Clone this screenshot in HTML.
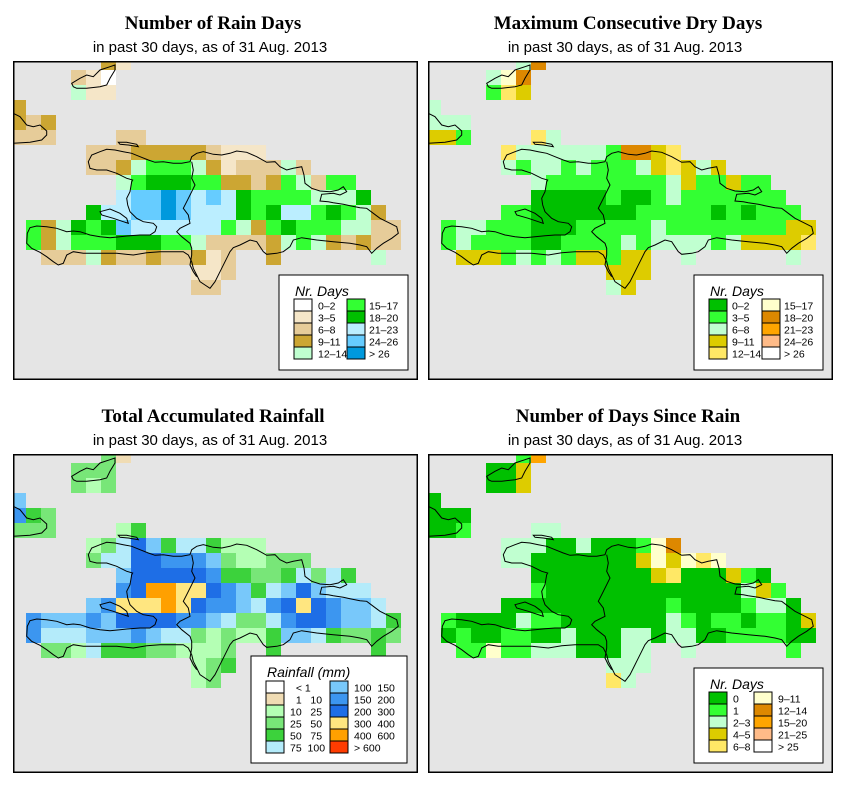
<!DOCTYPE html>
<html><head><meta charset="utf-8"><style>
html,body{margin:0;padding:0;background:#fff;width:853px;height:793px;overflow:hidden}
svg{position:absolute;left:0;top:0}
.t{font-family:"Liberation Serif",serif;font-weight:bold;font-size:19px}
.s{font-family:"Liberation Sans",sans-serif;font-size:15px}
.l{font-family:"Liberation Sans",sans-serif;font-size:10.5px}
.lt{font-family:"Liberation Sans",sans-serif;font-size:14px;font-style:italic}
</style></head><body>
<svg id="root" width="853" height="793">
<text class="t" x="213" y="29" text-anchor="middle">Number of Rain Days</text>
<text class="s" x="210" y="52" text-anchor="middle">in past 30 days, as of  31 Aug. 2013</text>
<text class="t" x="628" y="29" text-anchor="middle">Maximum Consecutive Dry Days</text>
<text class="s" x="625" y="52" text-anchor="middle">in past 30 days, as of  31 Aug. 2013</text>
<text class="t" x="213" y="422" text-anchor="middle">Total Accumulated Rainfall</text>
<text class="s" x="210" y="445" text-anchor="middle">in past 30 days, as of  31 Aug. 2013</text>
<text class="t" x="628" y="422" text-anchor="middle">Number of Days Since Rain</text>
<text class="s" x="625" y="445" text-anchor="middle">in past 30 days, as of  31 Aug. 2013</text>
</svg>
<script>
// ---- data: grid rows -1..14, columns 0..26 ----
const gridRainDays = [
"......ca...................",
"....baW....................",
"....daa....................",
"c..........................",
"cbc........................",
"bbb....bb..................",
".....bbbcccccbaaa..........",
".....bbcdeeedcabbbdb.......",
".......defffeeccbcedbee....",
".......ghhihghgfeeeedddf...",
".....fgghhihgggfefggefedc..",
".ecdfefhggggggedcefeeeddbb.",
".ecdeeefffeedbbbbcdedcbcbb.",
"..bbbdcbbcbbcab..c......d..",
"............aab............",
"............bb............."];
const gridDryDays = [
"......CG...................",
"....CFG....................",
"....BED....................",
"C..........................",
"CCC........................",
"DDB....EC..................",
".....ECCCCCCBGGDE..........",
".....CBCCBCBBBCDEDCD.......",
".......CBBBBBBBBCDBBDBB....",
".......AAAAABAABCBBBBBBB...",
".....BBAAAAAAABBBBBABABBB..",
".BCCBBBAAABBBBBCBBBBBBBBDD.",
".BCBBBBAABBBBCBCCCCBCDDDDE.",
"..DDDBCBCBDDBDD..C......C..",
"............DDD............",
"............CD............."];
const gridRainfall = [
"......31...................",
"....333....................",
"....323....................",
"6..........................",
"743........................",
"333....24..................",
".....235864554222..........",
".....355887776322333.......",
".......6888887443345354....",
".......78xx9987645686555...",
".....67999x98776578987665..",
".7666768888776533578876654.",
".7555666765532322466543343.",
"..3325444332223..4......4..",
"............234............",
"............23............."];
const gridSinceRain = [
"......BH...................",
"....AAD....................",
"....AAD....................",
"A..........................",
"AAA........................",
"AAB....CC..................",
".....CCCAACAAABFG..........",
".....CCAAAAAAADFDFEF.......",
".......AAAAAAAADEAAADBA....",
".......BAAAAAAAAAAAAACDB...",
".....AAAAAAAAAAABAAAABCCA..",
".BAAAACBBAAAAAAACBABBABBAD.",
".ABAABBAACAAACCACCAABBBBAA.",
"..BBFBBCCCAAACC..C......B..",
"............CCC............",
"............EC............."];
const rainDayKeys = ["W","a","b","c","d","e","f","g","h","i"];
const rainDayLabels = ["0–2","3–5","6–8","9–11","12–14","15–17","18–20","21–23","24–26","> 26"];
const rainDayColors = ["#ffffff","#f5e6c8","#e6cc99","#cca633","#c0ffd0","#33ff33","#00c000","#bbeeff","#66ccff","#0099dd"];
const dryKeys = ["A","B","C","D","E","F","G","H","I","J"];
const dryLabels = ["0–2","3–5","6–8","9–11","12–14","15–17","18–20","21–23","24–26","> 26"];
const dryColors = ["#00c000","#33ff33","#c0ffd0","#ddcc00","#ffe866","#ffffcc","#dd8800","#ffa500","#ffbb88","#ffffff"];
const rainfallKeys = ["0","1","2","3","4","5","6","7","8","9","x","y"];
const rainfallLabels = ["  < 1","  1   10","10   25","25   50","50   75","75  100","100  150","150  200","200  300","300  400","400  600","> 600"];
const rainfallColors = ["#ffffff","#f0dcb4","#b4ffb4","#78e678","#3cd23c","#b4ebfa","#78c8fa","#3c96f0","#1e6ee6","#ffe680","#ffa000","#ff3c00"];
const sinceKeys = ["A","B","C","D","E","F","G","H","I","J"];
const sinceLabels = ["0","1","2–3","4–5","6–8","9–11","12–14","15–20","21–25","> 25"];
const sinceColors = ["#00c000","#33ff33","#c0ffd0","#ddcc00","#ffe866","#ffffcc","#dd8800","#ffa500","#ffbb88","#ffffff"];

const NS="http://www.w3.org/2000/svg";
const root=document.getElementById('root');
const PW=405, PH=319, CELL=15;
function xCol(c){return -2+CELL*c;}
function yRow(r){return 9+CELL*r;}
const Z=(p)=>p.map(q=>[q[0]/3-13,q[1]/3-6]);
const mainland=Z([[265,320],[275,300],[300,290],[320,283],[345,285],[370,290],[395,295],[420,305],[445,315],[465,322],[490,320],[520,325],[545,325],[570,320],[575,305],[590,295],[610,290],[640,298],[665,300],[690,295],[710,288],[740,292],[770,305],[800,322],[825,320],[840,335],[860,345],[880,340],[905,335],[912,360],[915,385],[935,400],[960,408],[990,410],[1015,405],[1030,395],[1040,410],[1020,420],[1000,415],[965,418],[960,438],[985,440],[1000,443],[1030,448],[1050,452],[1080,458],[1100,460],[1120,475],[1140,490],[1170,505],[1190,515],[1195,535],[1175,550],[1150,565],[1130,580],[1115,595],[1100,575],[1080,570],[1050,565],[1000,560],[950,555],[905,548],[880,555],[870,575],[850,590],[830,595],[800,598],[790,590],[770,560],[750,555],[720,570],[700,578],[690,590],[680,610],[665,640],[645,680],[630,700],[615,690],[600,680],[590,660],[580,640],[575,620],[565,600],[550,590],[520,590],[480,590],[440,593],[400,600],[350,595],[300,595],[250,595],[220,590],[200,600],[190,625],[175,630],[160,620],[140,605],[120,592],[95,580],[80,565],[82,535],[90,518],[110,513],[140,515],[170,520],[200,530],[220,528],[240,530],[270,540],[300,545],[330,548],[360,545],[390,542],[420,540],[450,540],[465,530],[470,515],[460,505],[430,500],[410,490],[390,470],[383,450],[380,430],[390,410],[395,380],[398,375],[380,370],[350,355],[320,345],[290,345],[270,340]]);
const gonave=Z([[300,470],[330,462],[360,475],[380,490],[385,505],[370,500],[340,490],[305,480]]);
const tortuga=Z([[355,262],[380,262],[410,268],[415,275],[385,270],[360,268]]);
const border=Z([[575,320],[580,345],[575,370],[585,390],[575,410],[560,440],[550,460],[565,480],[570,505],[540,520],[530,530],[545,545],[570,565],[575,580],[575,600],[570,630],[580,650],[590,665]]);
const cuba=Z([[40,175],[60,185],[80,210],[100,215],[120,210],[140,228],[140,240],[125,255],[90,262],[40,265]]);
const inagua=Z([[215,85],[240,70],[260,60],[280,65],[300,45],[330,35],[345,30],[345,45],[330,70],[320,90],[300,95],[260,100],[230,100],[220,95]]);
function pstr(p,close){return 'M'+p.map(q=>q[0].toFixed(1)+','+q[1].toFixed(1)).join('L')+(close?'Z':'');}

function el(tag,attrs,parent){const e=document.createElementNS(NS,tag);for(const k in attrs)e.setAttribute(k,attrs[k]);parent.appendChild(e);return e;}

function panel(name,px,py,grid,keys,colors,labels,leg){
  const g=el('svg',{x:px,y:py,width:PW,height:PH,overflow:'hidden'},root);
  
  
  el('rect',{x:0,y:0,width:PW,height:PH,fill:'#e5e5e5'},g);
  grid.forEach((row,ri)=>{
    for(let c=0;c<row.length;c++){
      const k=row[c]; const idx=keys.indexOf(k);
      if(idx<0) continue;
      const r=el('rect',{x:xCol(c),y:yRow(ri-1),width:CELL,height:CELL,fill:colors[idx]},g);
      
      
    }
  });
  const coast=el('g',{fill:'none',stroke:'#000','stroke-width':1},g);
  
  
  el('path',{d:pstr(mainland,true)},coast);
  el('path',{d:pstr(gonave,true)},coast);
  el('path',{d:pstr(tortuga,true)},coast);
  el('path',{d:pstr(border,false)},coast);
  el('path',{d:pstr(cuba,false)},coast);
  el('path',{d:pstr(inagua,true)},coast);
  const lg=el('g',{},g);
  
  
  el('rect',{x:leg.x,y:leg.y,width:leg.w,height:leg.h,fill:'#fff',stroke:'#000','stroke-width':1},lg);
  const tt=el('text',{x:leg.tx,y:leg.ty,class:'lt'},lg); tt.textContent=leg.title;
  const half=Math.ceil(labels.length/2);
  labels.forEach((lab,i)=>{
    const col=i<half?0:1, row=i%half;
    const sx=col?leg.sx2:leg.sx1, sy=leg.sy+row*12;
    const e=el('g',{},lg);
    
    
    el('rect',{x:sx,y:sy,width:18,height:12,fill:colors[i],stroke:'#000','stroke-width':1},e);
    const t=el('text',{x:(col?leg.lx2:leg.lx1),y:sy+10.5,class:'l'},e);
    t.setAttribute('style','white-space:pre');
    t.textContent=lab;
  });
  el('rect',{x:0.75,y:0.75,width:PW-1.5,height:PH-1.5,fill:'none',stroke:'#000','stroke-width':1.5},g);
}
panel('rain-days',13,61,gridRainDays,rainDayKeys,rainDayColors,rainDayLabels,
 {x:266,y:214,w:129,h:95,tx:282,ty:235,title:'Nr. Days',sx1:281,sx2:334,lx1:305,lx2:356,sy:238});
panel('dry-days',428,61,gridDryDays,dryKeys,dryColors,dryLabels,
 {x:266,y:214,w:129,h:95,tx:282,ty:235,title:'Nr. Days',sx1:281,sx2:334,lx1:304,lx2:356,sy:238});
panel('rainfall',13,454,gridRainfall,rainfallKeys,rainfallColors,rainfallLabels,
 {x:238,y:202,w:156,h:107,tx:254,ty:223,title:'Rainfall (mm)',sx1:253,sx2:317,lx1:277,lx2:341,sy:227});
panel('days-since-rain',428,454,gridSinceRain,sinceKeys,sinceColors,sinceLabels,
 {x:266,y:214,w:129,h:95,tx:282,ty:235,title:'Nr. Days',sx1:281,sx2:326,lx1:305,lx2:350,sy:238});
</script>
</body></html>
